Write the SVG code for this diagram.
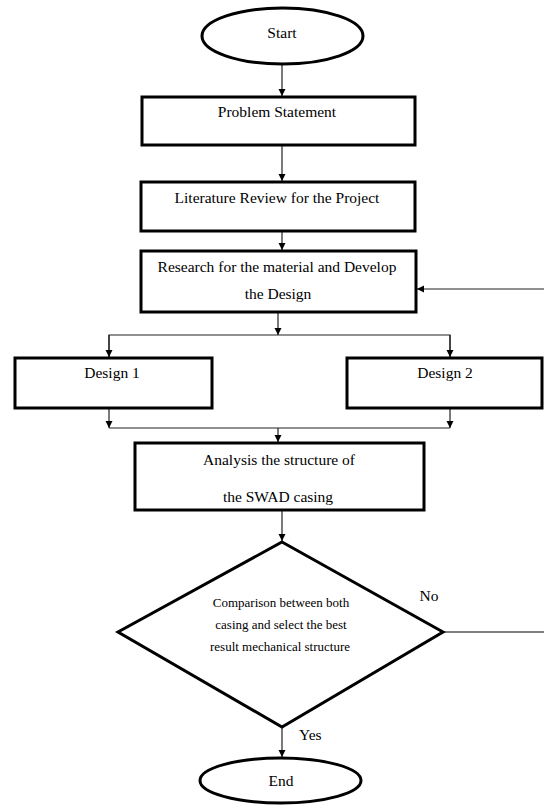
<svg xmlns="http://www.w3.org/2000/svg" width="544" height="805" viewBox="0 0 544 805">
<style>
.n{fill:#fff;stroke:#000;stroke-width:3}
.t{font-family:"Liberation Serif","Times New Roman",serif;font-size:15.5px;fill:#000;text-anchor:middle}
.s{font-size:13px}
.c{fill:none;stroke:#222;stroke-width:1.2}
.g{fill:none;stroke:#808080;stroke-width:1.8}
</style>
<defs>
<marker id="ah" viewBox="0 0 10 10" refX="10" refY="5" markerWidth="7" markerHeight="8" markerUnits="userSpaceOnUse" orient="auto">
<path d="M0,0 L10,5 L0,10 z" fill="#000"/>
</marker>
</defs>
<rect width="544" height="805" fill="#fff"/>
<g id="connectors">
<line class="c" x1="282" y1="65" x2="282" y2="96" marker-end="url(#ah)"/>
<line class="c" x1="282" y1="146" x2="282" y2="181" marker-end="url(#ah)"/>
<line class="c" x1="282" y1="232" x2="282" y2="250" marker-end="url(#ah)"/>
<line class="c" x1="278" y1="313" x2="278" y2="335" marker-end="url(#ah)"/>
<polyline class="c" points="109,357 109,335 450,335 450,357"/>
<line class="c" x1="109" y1="335" x2="109" y2="357" marker-end="url(#ah)"/>
<line class="c" x1="450" y1="335" x2="450" y2="357" marker-end="url(#ah)"/>
<line class="c" x1="109" y1="409" x2="109" y2="428" marker-end="url(#ah)"/>
<line class="c" x1="450" y1="409" x2="450" y2="428" marker-end="url(#ah)"/>
<line class="c" x1="109" y1="428" x2="450" y2="428"/>
<line class="c" x1="278" y1="428" x2="278" y2="442" marker-end="url(#ah)"/>
<line class="c" x1="282" y1="511" x2="282" y2="541" marker-end="url(#ah)"/>
<line class="c" x1="282" y1="728" x2="282" y2="757" marker-end="url(#ah)"/>
<line class="g" x1="444" y1="632" x2="544" y2="632"/>
<line class="c" x1="544" y1="289" x2="417" y2="289" marker-end="url(#ah)"/>
<text class="t" x="429" y="601">No</text>
<text class="t" x="299" y="740" style="text-anchor:start">Yes</text>
</g>
<g id="start">
<ellipse class="n" cx="282.5" cy="36" rx="80.5" ry="28"/>
<text class="t" x="282" y="38">Start</text>
</g>
<g id="problem">
<rect class="n" x="142" y="97" width="273" height="48"/>
<text class="t" x="277" y="117">Problem Statement</text>
</g>
<g id="literature">
<rect class="n" x="141" y="182" width="274" height="49"/>
<text class="t" x="277" y="203">Literature Review for the Project</text>
</g>
<g id="research">
<rect class="n" x="141" y="251" width="275" height="61"/>
<text class="t" x="277" y="272">Research for the material and Develop</text>
<text class="t" x="278" y="299">the Design</text>
</g>
<g id="design1">
<rect class="n" x="15" y="358" width="197" height="50"/>
<text class="t" x="112" y="378">Design 1</text>
</g>
<g id="design2">
<rect class="n" x="347" y="358" width="195" height="50"/>
<text class="t" x="445" y="378">Design 2</text>
</g>
<g id="analysis">
<rect class="n" x="135" y="443" width="289" height="67"/>
<text class="t" x="279" y="465">Analysis the structure of</text>
<text class="t" x="278" y="502">the SWAD casing</text>
</g>
<g id="decision">
<polygon class="n" points="282,542 443,632 282,727 118,632"/>
<text class="t s" x="281" y="607">Comparison between both</text>
<text class="t s" x="281" y="629">casing and select the best</text>
<text class="t s" x="280" y="651">result mechanical structure</text>
</g>
<g id="end">
<ellipse class="n" cx="280.5" cy="780.5" rx="80.5" ry="22.5"/>
<text class="t" x="281" y="786">End</text>
</g>
</svg>
